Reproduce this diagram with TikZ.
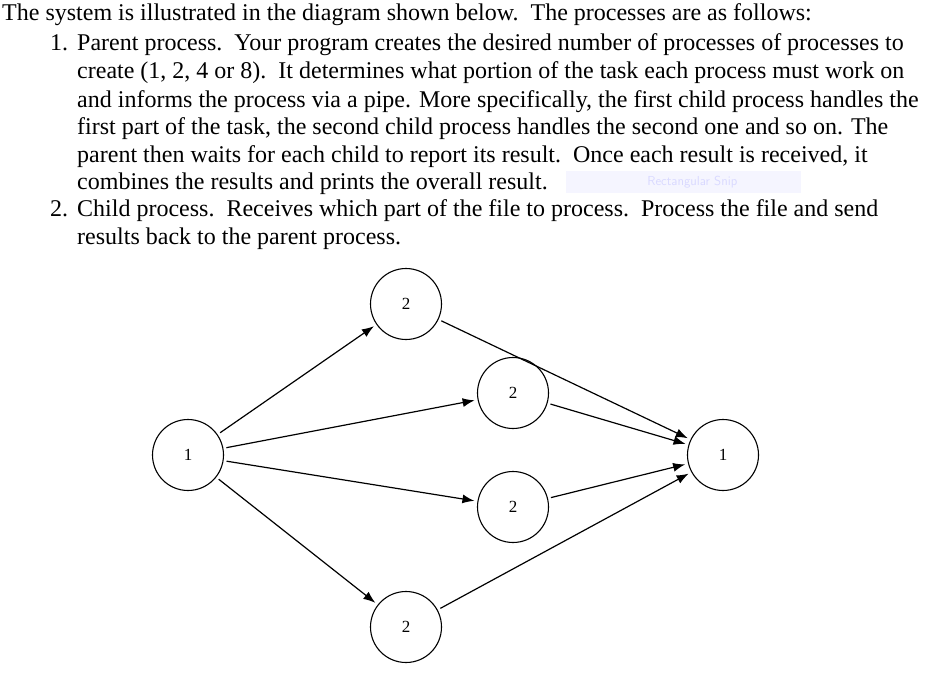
\documentclass[tikz,border=0pt]{standalone}
\usepackage{fontspec}
\setmainfont{Liberation Serif}
\usetikzlibrary{arrows.meta}
\begin{document}
\begin{tikzpicture}[x=1pt,y=-1pt,
  txt/.style={anchor=base west,inner sep=0pt,font=\fontsize{24}{28}\selectfont},
  proc/.style={circle,draw,line width=1.1pt,minimum size=71pt,inner sep=0pt,font=\fontsize{17}{19}\selectfont},
  arr/.style={line width=1.2pt,-{Latex[length=12pt,width=9pt]},shorten >=3pt,shorten <=3pt}]
\useasboundingbox (0,0) rectangle (925,674);
\node[txt] (l1) at (2,21) {The system is illustrated in the diagram shown below.\ \ The processes are as follows:};
\node[txt] (n1) at (50,51) {1.};
\node[txt] (l2) at (77,51) {Parent process.\ \ Your program creates the desired number of processes of processes to};
\node[txt] (l3) at (77,79) {create (1, 2, 4 or 8).\ \ It determines what portion of the task each process must work on};
\node[txt] (l4) at (77,107) {and informs the process via a pipe. More specifically, the first child process handles the};
\node[txt] (l5) at (77,134) {first part of the task, the second child process handles the second one and so on. The};
\node[txt] (l6) at (77,162) {parent then waits for each child to report its result.\ \ Once each result is received, it};
\node[txt] (l7) at (77,189) {combines the results and prints the overall result.};
\node[anchor=west,fill=blue!4,text=blue!15,minimum width=235pt,minimum height=22pt,font=\sffamily\fontsize{13}{15}\selectfont] (snip) at (566,182) {\quad\ Rectangular Snip};
\node[txt] (n2) at (50,216) {2.};
\node[txt] (l8) at (77,216) {Child process.\ \ Receives which part of the file to process.\ \ Process the file and send};
\node[txt] (l9) at (77,244) {results back to the parent process.};
\node[proc] (p) at (188,455) {1};
\node[proc] (a) at (406,304) {2};
\node[proc] (b) at (513,393) {2};
\node[proc] (c) at (513,507) {2};
\node[proc] (d) at (406,627) {2};
\node[proc] (q) at (723,455) {1};
\foreach \n in {a,b,c,d}{\draw[arr] (p) -- (\n); \draw[arr] (\n) -- (q);}
\end{tikzpicture}
\end{document}
